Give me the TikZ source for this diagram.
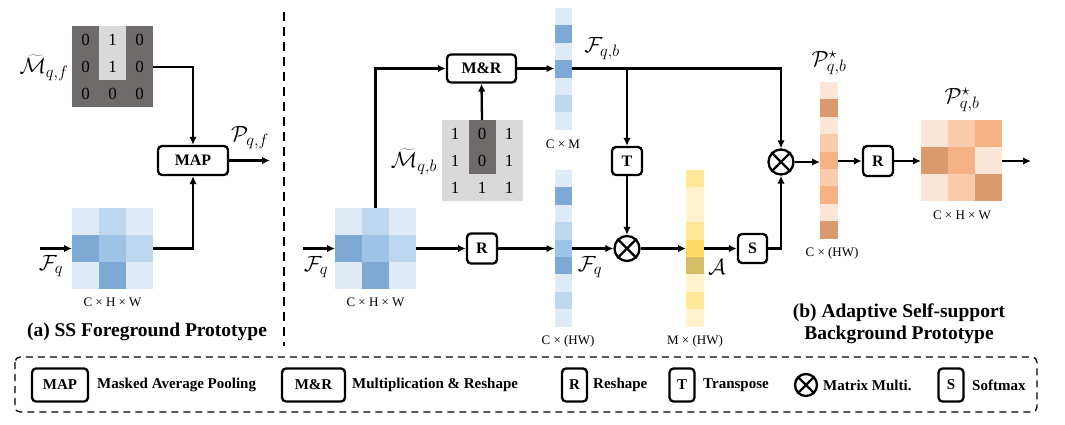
\RequirePackage{fix-cm}
\documentclass[tikz,border=0pt]{standalone}
\usepackage{fontspec}
\setmainfont{Liberation Serif}
\usetikzlibrary{arrows.meta}
\DeclareMathSizes{22}{22}{16.5}{12}
\definecolor{ba}{HTML}{DEEBF7}
\definecolor{bb}{HTML}{BDD7EE}
\definecolor{bc}{HTML}{9DC3E6}
\definecolor{bd}{HTML}{7FA9D5}
\definecolor{ga}{HTML}{D9D9D9}
\definecolor{gd}{HTML}{6F6B6B}
\definecolor{ya}{HTML}{FFF2CC}
\definecolor{yb}{HTML}{FFE699}
\definecolor{yc}{HTML}{FFD966}
\definecolor{yd}{HTML}{D6BD6A}
\definecolor{oa}{HTML}{FBE5D6}
\definecolor{ob}{HTML}{F8CBAD}
\definecolor{oc}{HTML}{F4B183}
\definecolor{od}{HTML}{D99B6D}
\newcommand\mygrid[3]{%
  \foreach \c [count=\i from 0] in {#3}{%
    \pgfmathtruncatemacro\cc{mod(\i,3)}%
    \pgfmathtruncatemacro\rr{floor(\i/3)}%
    \fill[\c] ({#1+27*\cc},{#2+27*\rr}) rectangle ++(27,27);
  }}
\newcommand\mycol[3]{%
  \foreach \c [count=\i from 0] in {#3}{%
    \fill[\c] (#1,{#2+17.4*\i}) rectangle ++(17.5,17.4);
  }}
\begin{document}
\begin{tikzpicture}[x=1pt,y=-1pt,
  box/.style={draw,rounded corners=4pt,line width=2.3pt,fill=white,inner sep=0pt,font=\fontsize{16}{18}\selectfont\bfseries},
  lbox/.style={draw,rounded corners=4pt,line width=2.3pt,fill=white,inner sep=0pt,minimum height=33pt,font=\fontsize{15}{17}\selectfont\bfseries},
  ltext/.style={anchor=west,inner sep=0pt,font=\fontsize{15}{17}\selectfont\bfseries},
  area/.style={rectangle,inner sep=0pt,outer sep=0pt},
  omul/.style={circle,draw,line width=2.3pt,minimum size=25pt,inner sep=0pt},
  arr/.style={line width=2.3pt,-{Latex[length=8pt,width=7.5pt]}},
  ln/.style={line width=2.3pt},
  mlab/.style={inner sep=0pt,font=\fontsize{22}{24}\selectfont},
  dim/.style={inner sep=0pt,font=\fontsize{13}{15}\selectfont},
  num/.style={inner sep=0pt,font=\fontsize{17}{19}\selectfont},
  captxt/.style={inner sep=0pt,align=center,font=\fontsize{19.5}{22}\selectfont\bfseries},
]
\useasboundingbox (0,0) rectangle (1065,424);
% ---------- (a) ----------
\fill[gd] (72,26) rectangle (153,107);
\fill[ga] (99,26) rectangle (126,80);
\node[area,minimum width=81pt,minimum height=81pt] (maskf) at (112.5,66.5) {};
\foreach \t [count=\i from 0] in {0,1,0,0,1,0,0,0,0}{
  \pgfmathtruncatemacro\cc{mod(\i,3)}\pgfmathtruncatemacro\rr{floor(\i/3)}
  \node[num] (mf\i) at ({85.5+27*\cc},{40+27*\rr}) {\t};}
\node[mlab] (lmf) at (44,68) {$\widetilde{\mathcal{M}}_{q,f}$};

\mygrid{72}{208}{ba,bb,ba,bd,bc,bb,ba,bd,ba}
\node[area,minimum width=81pt,minimum height=81pt] (featA) at (112.5,248.5) {};
\node[dim] (dA) at (112.5,302) {C × H × W};
\coordinate (inA) at (40,248.5);
\node[mlab] (lfa) at (51,266) {$\mathcal{F}_q$};

\node[box,minimum width=70pt,minimum height=29pt] (map) at (193,160.5) {MAP};
\coordinate (outA) at (270,160.5);
\node[mlab] (lpf) at (250,138) {$\mathcal{P}_{q,f}$};

\draw[arr] (maskf.east |- 0,67) -| (map.north);
\draw[arr] (featA.east) -| (map.south);
\draw[arr] (inA) -- (featA.west);
\draw[arr] (map.east) -- (outA);

\node[captxt] (capa) at (147,332) {(a) SS Foreground Prototype};

\draw[line width=2.5pt,dash pattern=on 9pt off 6pt] (284,12) -- (284,346);

% ---------- (b) ----------
\mygrid{335}{208}{ba,bb,ba,bd,bc,bb,ba,bd,ba}
\node[area,minimum width=81pt,minimum height=81pt] (featB) at (375.5,248.5) {};
\node[dim] (dB) at (375.5,302) {C × H × W};
\coordinate (inB) at (303,248.5);
\node[mlab] (lfb) at (316,267) {$\mathcal{F}_q$};

\node[box,minimum width=69pt,minimum height=28pt] (mr) at (481.5,68.5) {M\&R};

\fill[ga] (441.5,120) rectangle (522.5,201);
\fill[gd] (468.5,120) rectangle (495.5,174);
\node[area,minimum width=81pt,minimum height=81pt] (maskb) at (482,160.5) {};
\foreach \t [count=\i from 0] in {1,0,1,1,0,1,1,1,1}{
  \pgfmathtruncatemacro\cc{mod(\i,3)}\pgfmathtruncatemacro\rr{floor(\i/3)}
  \node[num] (mb\i) at ({455+27*\cc},{134+27*\rr}) {\t};}
\node[mlab] (lmb) at (414,162) {$\widetilde{\mathcal{M}}_{q,b}$};

\node[box,minimum width=30pt,minimum height=30pt] (rb) at (482,248.5) {R};

\mycol{554.5}{8}{ba,bd,ba,bd,ba,bb,ba}
\node[area,minimum width=17.5pt,minimum height=121.8pt] (colFqb) at (563.25,68.9) {};
\node[mlab] (lfqb) at (602,49) {$\mathcal{F}_{q,b}$};
\node[dim] (dFqb) at (563,144) {C × M};

\mycol{554.5}{170}{ba,bd,ba,bb,bc,bd,ba,bb,ba}
\node[area,minimum width=17.5pt,minimum height=156.6pt] (colFq) at (563.25,248.3) {};
\node[mlab] (lfq2) at (590,267) {$\mathcal{F}_q$};
\node[dim] (dFq) at (568,341) {C × (HW)};

\node[box,minimum width=30pt,minimum height=28pt] (tb) at (627,161) {T};
\node[omul] (ot1) at (627,248.5) {};
\draw[ln] (ot1.north east) -- (ot1.south west) (ot1.north west) -- (ot1.south east);

\mycol{686}{170}{yb,ya,ya,yb,yc,yd,ya,yb,ya}
\node[area,minimum width=17.5pt,minimum height=156.6pt] (colA) at (694.75,248.3) {};
\node[mlab] (la) at (717,267) {$\mathcal{A}$};
\node[dim] (dA2) at (695,341) {M × (HW)};

\node[box,minimum width=29pt,minimum height=29pt] (sb) at (752.5,248.5) {S};
\node[omul] (ot2) at (781,162) {};
\draw[ln] (ot2.north east) -- (ot2.south west) (ot2.north west) -- (ot2.south east);

\mycol{820}{82}{oa,od,oa,ob,oc,ob,oc,oa,od}
\node[area,minimum width=17.5pt,minimum height=156.6pt] (colP) at (828.75,160.3) {};
\node[mlab] (lp1) at (829,63) {$\mathcal{P}^{\star}_{q,b}$};
\node[dim] (dP) at (832,253) {C × (HW)};

\node[box,minimum width=30pt,minimum height=30pt] (rb2) at (878,161) {R};

\mygrid{921}{120}{oa,ob,oc,od,oc,oa,oa,ob,od}
\node[area,minimum width=81pt,minimum height=81pt] (matP) at (961.5,160.5) {};
\node[mlab] (lp2) at (962,100) {$\mathcal{P}^{\star}_{q,b}$};
\node[dim] (dP2) at (962,215) {C × H × W};
\coordinate (outB) at (1031,161);

% connectors (b)
\draw[arr] (inB) -- (featB.west);
\draw[arr] (featB.north) |- (mr.west);
\draw[arr] (maskb.north) -- (mr.south);
\draw[arr] (mr.east) -- (colFqb.west |- mr.east);
\draw[arr] (colFqb.east |- mr.east) -| (ot2.north);
\draw[arr] (tb.north |- mr.east) -- (tb.north);
\draw[arr] (featB.east) -- (rb.west);
\draw[arr] (rb.east) -- (colFq.west |- rb.east);
\draw[arr] (tb.south) -- (ot1.north);
\draw[arr] (colFq.east |- ot1.west) -- (ot1.west);
\draw[arr] (ot1.east) -- (colA.west |- ot1.east);
\draw[arr] (colA.east |- sb.west) -- (sb.west);
\draw[arr] (sb.east) -| (ot2.south);
\draw[arr] (ot2.east) -- (colP.west |- ot2.east);
\draw[arr] (colP.east |- rb2.west) -- (rb2.west);
\draw[arr] (rb2.east) -- (matP.west |- rb2.east);
\draw[arr] (matP.east |- outB) -- (outB);

\node[captxt] (capb) at (899,324) {(b) Adaptive Self-support\\Background Prototype};

% ---------- legend ----------
\draw[line width=1.3pt,dash pattern=on 7pt off 5pt,rounded corners=5pt] (15,357) rectangle (1037,412);
\node[lbox,minimum width=56pt] (lg1) at (60,385) {MAP};
\node[ltext] (lt1) at (97,385) {Masked Average Pooling};
\node[lbox,minimum width=63pt] (lg2) at (313.5,385) {M\&R};
\node[ltext] (lt2) at (352,385) {Multiplication \& Reshape};
\node[lbox,minimum width=25pt] (lg3) at (574.5,385) {R};
\node[ltext] (lt3) at (593,385) {Reshape};
\node[lbox,minimum width=25pt] (lg4) at (682,385) {T};
\node[ltext] (lt4) at (703,385) {Transpose};
\node[omul,minimum size=22pt] (lg5) at (806,385) {};
\draw[ln] (lg5.north east) -- (lg5.south west) (lg5.north west) -- (lg5.south east);
\node[ltext] (lt5) at (823,385) {Matrix Multi.};
\node[lbox,minimum width=25pt] (lg6) at (951,385) {S};
\node[ltext] (lt6) at (972,385) {Softmax};
\end{tikzpicture}
\end{document}
